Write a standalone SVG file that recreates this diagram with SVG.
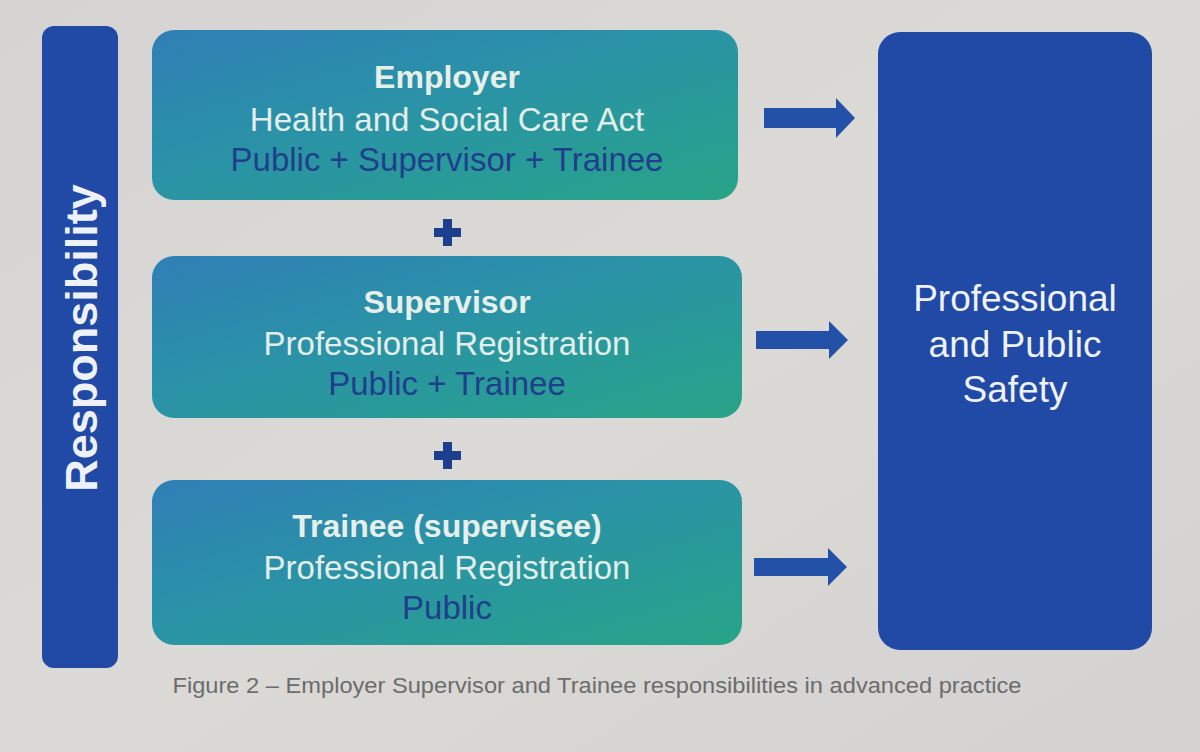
<svg xmlns="http://www.w3.org/2000/svg" width="1200" height="752" viewBox="0 0 1200 752">
  <defs>
    <linearGradient id="teal" x1="0" y1="0" x2="1" y2="1">
      <stop offset="0" stop-color="#2f7fb6"/>
      <stop offset="0.45" stop-color="#2a93a6"/>
      <stop offset="1" stop-color="#27a487"/>
    </linearGradient>
    <linearGradient id="bg" x1="0" y1="0" x2="1" y2="1">
      <stop offset="0" stop-color="#d5d4d3"/>
      <stop offset="0.5" stop-color="#dcdad6"/>
      <stop offset="1" stop-color="#d3d2d1"/>
    </linearGradient>
    <style>
      .box { fill: url(#teal); }
      .navy { fill: #2149a6; }
      .t { font-family: "Liberation Sans", Arial, sans-serif; text-anchor: middle; }
      .head { font-size: 32px; font-weight: bold; fill: #e6efea; }
      .sub { font-size: 33px; fill: #e3eeea; }
      .who { font-size: 33px; fill: #1f3f8c; }
      .arrow { fill: #2451a8; }
      .plus { fill: #1e3f8e; }
      .side { font-size: 37px; fill: #eef2f8; }
    </style>
  </defs>
  <rect width="1200" height="752" fill="url(#bg)"/>

  <g id="responsibility">
    <rect x="42" y="26" width="76" height="642" rx="12" class="navy"/>
    <text class="t" transform="translate(97,338) rotate(-90)" font-size="45" font-weight="bold" fill="#eef2f8">Responsibility</text>
  </g>

  <g id="employer">
    <rect x="152" y="30" width="586" height="170" rx="22" class="box"/>
    <text class="t head" x="447" y="88">Employer</text>
    <text class="t sub" x="447" y="131">Health and Social Care Act</text>
    <text class="t who" x="447" y="171">Public + Supervisor + Trainee</text>
  </g>

  <g id="supervisor">
    <rect x="152" y="256" width="590" height="162" rx="22" class="box"/>
    <text class="t head" x="447" y="313">Supervisor</text>
    <text class="t sub" x="447" y="355">Professional Registration</text>
    <text class="t who" x="447" y="395">Public + Trainee</text>
  </g>

  <g id="trainee">
    <rect x="152" y="480" width="590" height="165" rx="22" class="box"/>
    <text class="t head" x="447" y="537">Trainee (supervisee)</text>
    <text class="t sub" x="447" y="579">Professional Registration</text>
    <text class="t who" x="447" y="619">Public</text>
  </g>

  <g id="safety">
    <rect x="878" y="32" width="274" height="618" rx="22" class="navy"/>
    <text class="t side" x="1015" y="311">Professional</text>
    <text class="t side" x="1015" y="357">and Public</text>
    <text class="t side" x="1015" y="402">Safety</text>
  </g>

  <g id="connectors">
    <path class="plus" d="M443,219 h9 v9 h9 v9 h-9 v9 h-9 v-9 h-9 v-9 h9 z"/>
    <path class="plus" d="M443,442 h9 v9 h9 v9 h-9 v9 h-9 v-9 h-9 v-9 h9 z"/>
    <path class="arrow" d="M764,108 h72 v-10 l19,20 l-19,20 v-10 h-72 z"/>
    <path class="arrow" d="M756,331 h73 v-10 l19,19 l-19,19 v-10 h-73 z"/>
    <path class="arrow" d="M754,558 h74 v-10 l19,19 l-19,19 v-10 h-74 z"/>
  </g>

  <text class="t" x="597" y="693" font-size="22" fill="#6c6c6c" textLength="849" lengthAdjust="spacingAndGlyphs">Figure 2 – Employer Supervisor and Trainee responsibilities in advanced practice</text>
</svg>
